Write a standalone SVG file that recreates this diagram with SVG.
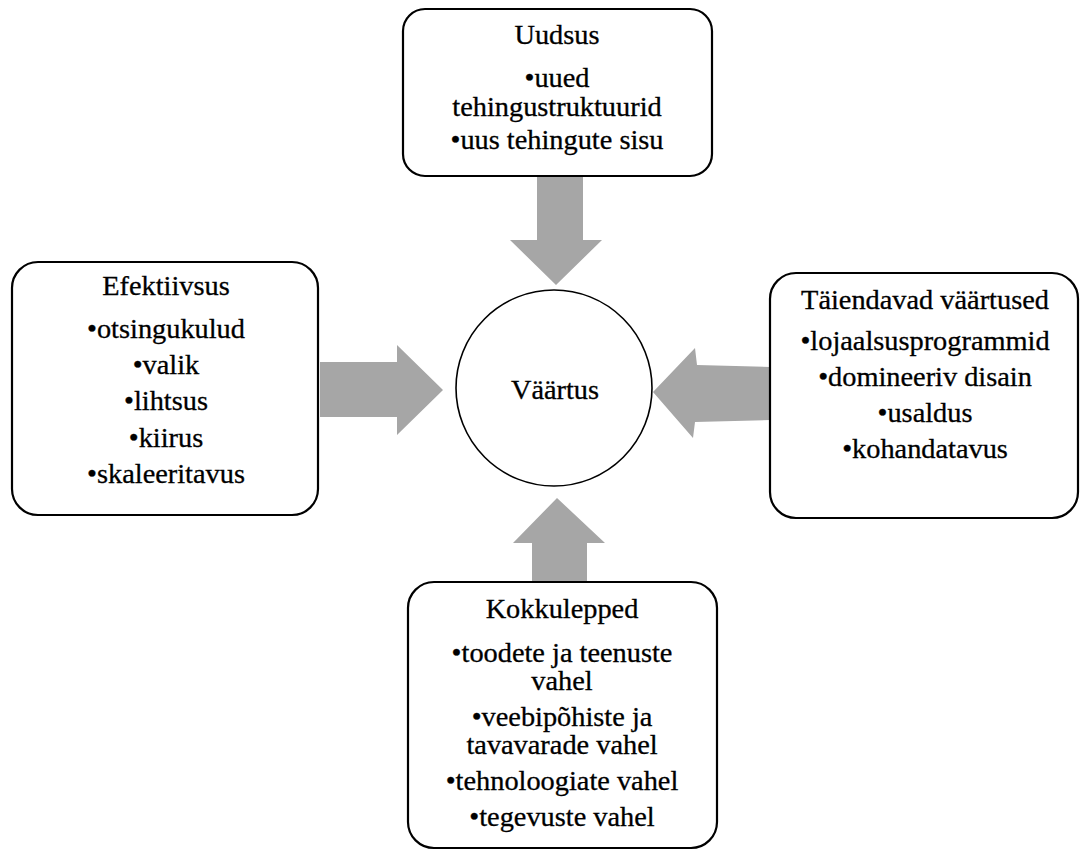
<svg xmlns="http://www.w3.org/2000/svg" width="1083" height="850" viewBox="0 0 1083 850">
<style>
.box{fill:#ffffff;stroke:#000000;stroke-width:2.2}
.circ{fill:#ffffff;stroke:#000000;stroke-width:1.6}
.arr{fill:#a6a6a6;stroke:none}
text{font-family:"Liberation Serif","Times New Roman",serif;font-size:27px;fill:#000000;stroke:#000000;stroke-width:0.3;text-anchor:middle}
</style>
<rect width="1083" height="850" fill="#ffffff"/>
<g id="connectors">
<polygon class="arr" points="537,176 583,176 583,240 602,240 556,285 510,240 537,240"/>
<polygon class="arr" points="320,362 397,362 397,345 443,390 397,435 397,417 320,417"/>
<polygon class="arr" points="770,367 697,365 695,348 653,392 693,438 695,422 770,420"/>
<polygon class="arr" points="532,582 532,543 513,543 557,498 605,543 587,543 587,582"/>
</g>
<g id="center">
<circle class="circ" cx="554" cy="388" r="98"/>
<g transform="translate(555,0) scale(1.05,1)"><text x="0" y="399">Väärtus</text></g>
</g>
<g id="uudsus">
<rect class="box" x="403" y="9" width="309" height="167" rx="22"/>
<g transform="translate(557,0) scale(1.05,1)">
<text x="0" y="44">Uudsus</text>
<text x="0" y="87">•uued</text>
<text x="0" y="116">tehingustruktuurid</text>
<text x="0" y="149">•uus tehingute sisu</text>
</g>
</g>
<g id="efektiivsus">
<rect class="box" x="12" y="262" width="306" height="253" rx="26"/>
<g transform="translate(166,0) scale(1.05,1)">
<text x="0" y="295">Efektiivsus</text>
<text x="0" y="338">•otsingukulud</text>
<text x="0" y="374">•valik</text>
<text x="0" y="410">•lihtsus</text>
<text x="0" y="447">•kiirus</text>
<text x="0" y="483">•skaleeritavus</text>
</g>
</g>
<g id="taiendavad">
<rect class="box" x="770" y="273" width="308" height="245" rx="26"/>
<g transform="translate(925,0) scale(1.05,1)">
<text x="0" y="309">Täiendavad väärtused</text>
<text x="0" y="350">•lojaalsusprogrammid</text>
<text x="0" y="386">•domineeriv disain</text>
<text x="0" y="422">•usaldus</text>
<text x="0" y="458">•kohandatavus</text>
</g>
</g>
<g id="kokkulepped">
<rect class="box" x="408" y="582" width="309" height="266" rx="26"/>
<g transform="translate(562,0) scale(1.05,1)">
<text x="0" y="618">Kokkulepped</text>
<text x="0" y="662">•toodete ja teenuste</text>
<text x="0" y="690">vahel</text>
<text x="0" y="726">•veebipõhiste ja</text>
<text x="0" y="754">tavavarade vahel</text>
<text x="0" y="790">•tehnoloogiate vahel</text>
<text x="0" y="826">•tegevuste vahel</text>
</g>
</g>
</svg>
